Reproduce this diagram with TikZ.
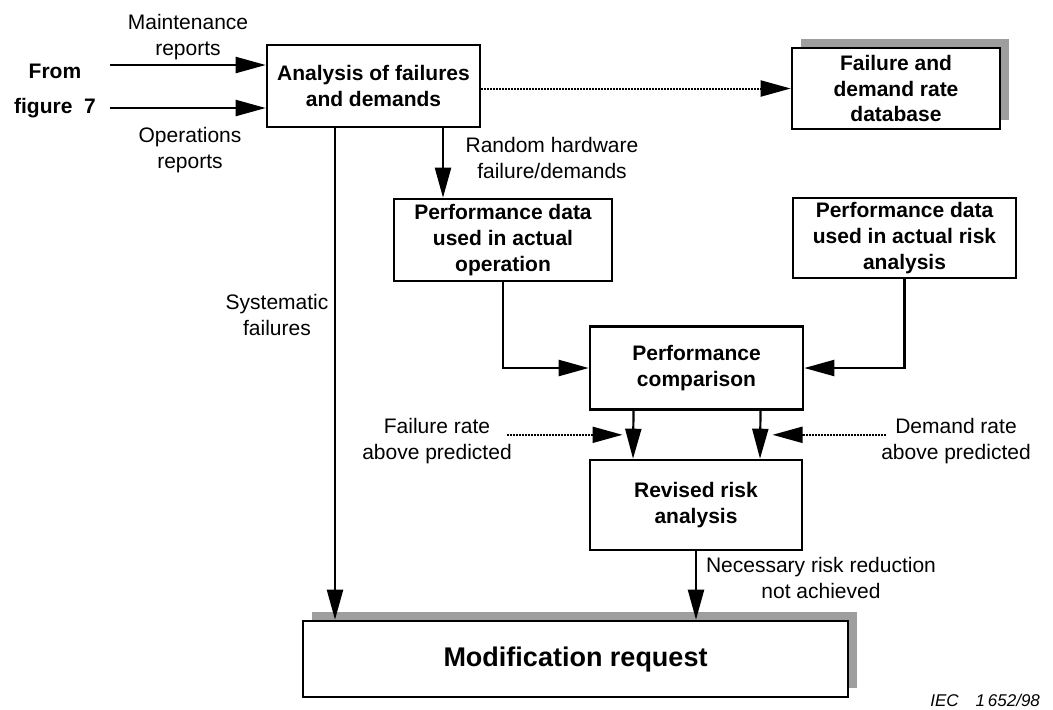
\documentclass[tikz,border=0pt]{standalone}
\usepackage{fontspec}
\setmainfont{Liberation Sans}
\usetikzlibrary{arrows.meta}
\usetikzlibrary{calc,shadows,positioning}

\begin{document}
\begin{tikzpicture}[
        x=0.5pt, y=-0.5pt,
        every node/.style={font=\fontsize{10.5}{12.8}\selectfont, align=center},
        block/.style={rectangle, draw=black, line width=1.3pt, fill=white, inner sep=2pt, font=\fontsize{10.5}{12.8}\selectfont\bfseries},
        shadowed/.style={drop shadow={shadow xshift=4.5pt, shadow yshift=4.5pt, fill=black!38, opacity=1}},
        arr/.style={-{Triangle[length=15pt,width=8pt]}, line width=1.1pt},
        dotarr/.style={arr, line width=1pt, dash pattern=on 1pt off 0.5pt}
      ]
        \useasboundingbox (0,0) rectangle (1053,709);

        % boxes
        \node (analysis) [block, minimum width=106.5pt, minimum height=41pt] at (373.5,86) {Analysis of failures\\and demands};
        \node (database) [block, shadowed, minimum width=104pt, minimum height=40.5pt] at (896,88.5) {Failure and\\demand rate\\database};
        \node (perfop) [block, minimum width=109pt, minimum height=41pt] at (503,240) {Performance data\\used in actual\\operation};
        \node (perfrisk) [block, minimum width=111.5pt, minimum height=40pt] at (904.5,238) {Performance data\\used in actual risk\\analysis};
        \node (comparison) [block, minimum width=106.5pt, minimum height=41.5pt] at (696.5,368) {Performance\\comparison};
        \node (revised) [block, minimum width=106pt, minimum height=45pt] at (696,505) {Revised risk\\analysis};
        \node (modification) [block, shadowed, minimum width=272.5pt, minimum height=38pt, font=\fontsize{13.5}{16}\selectfont\bfseries] at (575.5,659) {Modification request};

        % inputs on the left
        \node (fromfig) [font=\fontsize{10.5}{12.8}\selectfont\bfseries] at (55,91) {From\\[5pt]figure\ \ 7};
        \node (maintlbl) at (188,37) {Maintenance\\reports};
        \node (operlbl) at (190,150) {Operations\\reports};
        \coordinate (maint) at (110,65);
        \coordinate (oper) at (110,108);
        \draw[arr] (maint) -- (maint -| analysis.west);
        \draw[arr] (oper) -- (oper -| analysis.west);

        \draw[dotarr] (analysis.east |- database.west) -- (database.west);

        \coordinate (rnd) at ($(analysis.south)+(69.5,0)$);
        \draw[arr] (rnd) -- (rnd |- perfop.north);
        \node (rndlbl) at (552,158) {Random hardware\\failure/demands};

        \coordinate (sys) at ($(analysis.south)+(-38.5,0)$);
        \draw[arr] (sys) -- (sys |- modification.north);
        \node (syslbl) at (277,315) {Systematic\\failures};

        \draw[arr] (perfop.south) |- (comparison.west);
        \draw[arr] (perfrisk.south) |- (comparison.east);

        \draw[arr] ($(comparison.south)+(-63,0)$) -- ($(revised.north)+(-63,0)$);
        \draw[arr] ($(comparison.south)+(64,0)$) -- ($(revised.north)+(64,0)$);

        % predicted rates
        \node (failtxt) at (437,441) {Failure rate\\above predicted};
        \coordinate (failtip) at ($(comparison.south)+(-74,24)$);
        \draw[dotarr] ($(failtxt.east |- failtip)+(-12,0)$) -- (failtip);
        \node (demtxt) at (956,441) {Demand rate\\above predicted};
        \coordinate (demtip) at ($(comparison.south)+(76,24)$);
        \draw[dotarr] ($(demtxt.west |- demtip)+(12,0)$) -- (demtip);

        \draw[arr] (revised.south) -- (revised.south |- modification.north);
        \node (necessary) at (821,578) {Necessary risk reduction\\not achieved};

        \node (ieclbl) [anchor=east, font=\fontsize{8.5}{10}\selectfont\itshape] at (1047,700) {IEC\quad 1\,652/98};
      \end{tikzpicture}
\end{document}
